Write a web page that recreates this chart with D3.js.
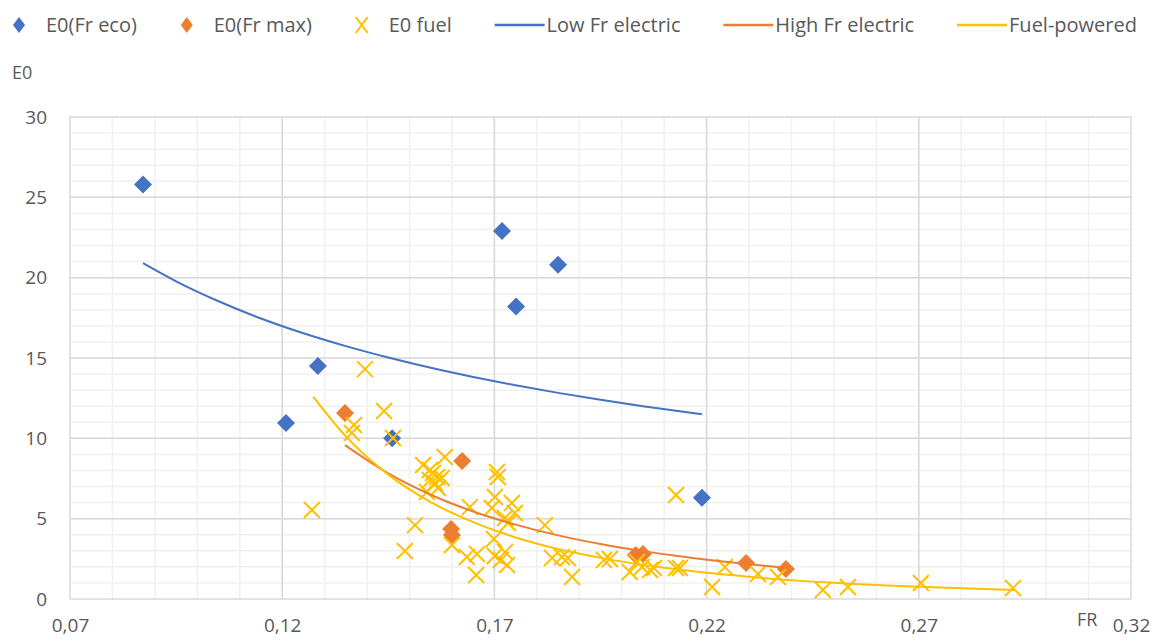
<!DOCTYPE html>
<html>
<head>
<meta charset="utf-8">
<script src="https://cdn.jsdelivr.net/npm/d3@7"></script>
<style>
  body { margin: 0; background: #fff; }
  #chart { width: 1166px; height: 642px; }
  text { font-family: "Open Sans", Lato, sans-serif; fill: #595959; }
</style>
</head>
<body>
<div id="chart"></div>
<script>
// E0(Fr eco) points
const ecoFR = [0.0872, 0.1209, 0.1284, 0.1459, 0.1718, 0.1751, 0.1850, 0.2189];
const ecoE0 = [25.8, 10.95, 14.5, 10.0, 22.9, 18.2, 20.8, 6.3];

// E0(Fr max) points
const maxFR = [0.1348, 0.1598, 0.1600, 0.1624, 0.2033, 0.2050, 0.2293, 0.2387];
const maxE0 = [11.57, 4.36, 3.98, 8.59, 2.74, 2.80, 2.24, 1.87];

// E0 fuel points
const fuelFR = [0.1270, 0.1395, 0.1369, 0.1364, 0.1440, 0.1461, 0.1513, 0.1489, 0.1600,
    0.1583, 0.1532, 0.1548, 0.1555, 0.1565, 0.1548, 0.1560, 0.1576, 0.1541, 0.1567,
    0.1706, 0.1708, 0.1701, 0.1642, 0.1694, 0.1741, 0.1748, 0.1725, 0.1732, 0.1819,
    0.1699, 0.1635, 0.1659, 0.1657, 0.1701, 0.1725, 0.1715, 0.1730, 0.1836, 0.1859,
    0.1873, 0.1883, 0.1958, 0.1972, 0.2019, 0.2036, 0.2048, 0.2067, 0.2076, 0.2128,
    0.2128, 0.2137, 0.2213, 0.2243, 0.2321, 0.2368, 0.2474, 0.2533, 0.2705, 0.2922];
const fuelE0 = [5.54, 14.31, 10.83, 10.33, 11.70, 10.02, 4.60, 2.99, 3.36,
    8.84, 8.34, 8.03, 7.84, 7.59, 7.40, 7.22, 7.53, 6.66, 6.91,
    7.90, 7.59, 6.35, 5.72, 5.66, 5.97, 5.35, 5.04, 4.73, 4.60,
    3.73, 2.61, 2.80, 1.49, 2.68, 2.92, 2.43, 2.12, 2.55, 2.61,
    2.55, 1.37, 2.43, 2.49, 1.68, 2.30, 1.99, 1.80, 1.93, 6.47,
    1.93, 1.93, 0.75, 1.99, 1.56, 1.37, 0.56, 0.75, 1.00, 0.68];

// trend curves
const lowFR = [0.0872, 0.095, 0.105, 0.115, 0.125, 0.135, 0.145, 0.155, 0.165, 0.175, 0.185, 0.195, 0.205, 0.2189];
const lowE0 = [20.9, 19.77, 18.53, 17.46, 16.54, 15.74, 15.03, 14.39, 13.82, 13.30, 12.83, 12.40, 12.00, 11.5];

const highFR = [0.1348, 0.145, 0.155, 0.165, 0.175, 0.185, 0.195, 0.205, 0.215, 0.225, 0.2395];
const highE0 = [9.58, 7.82, 6.49, 5.45, 4.63, 3.96, 3.42, 2.98, 2.61, 2.30, 1.93];

const fuelLineFR = [0.1273, 0.135, 0.145, 0.155, 0.165, 0.175, 0.185, 0.195, 0.21, 0.23, 0.25, 0.27, 0.2926];
const fuelLineE0 = [12.6, 10.12, 7.74, 6.03, 4.78, 3.83, 3.11, 2.56, 1.94, 1.38, 1.01, 0.76, 0.56];

const xTicks = [0.07, 0.12, 0.17, 0.22, 0.27, 0.32];
const yTicks = [0, 5, 10, 15, 20, 25, 30];

const legendNames = ["E0(Fr eco)", "E0(Fr max)", "E0 fuel", "Low Fr electric", "High Fr electric", "Fuel-powered"];

const blue = "#4472C4", orange = "#ED7D31", yellow = "#FFC000";

/*
DIMENSIONS
*/
const width = 1166;
const height = 642;
const margin = {top: 117, left: 70, right: 35, bottom: 43};

const svg = d3.select("#chart")
    .append("svg")
    .attr("width", width)
    .attr("height", height);

const xScale = d3.scaleLinear()
    .domain([0.07, 0.32])
    .range([margin.left, width - margin.right]);

const yScale = d3.scaleLinear()
    .domain([0, 30])
    .range([height - margin.bottom, margin.top]);

/*
GRIDLINES
*/
const minorX = d3.range(8, 32).map(function(d) { return d / 100; });
const minorY = d3.range(1, 30);

svg.append("g").selectAll("line")
    .data(minorX)
    .enter().append("line")
    .attr("x1", function(d) { return xScale(d); })
    .attr("x2", function(d) { return xScale(d); })
    .attr("y1", yScale(0))
    .attr("y2", yScale(30))
    .attr("stroke", "#f0f0f0")
    .attr("stroke-width", 1.5);

svg.append("g").selectAll("line")
    .data(minorY)
    .enter().append("line")
    .attr("x1", xScale(0.07))
    .attr("x2", xScale(0.32))
    .attr("y1", function(d) { return yScale(d); })
    .attr("y2", function(d) { return yScale(d); })
    .attr("stroke", "#f0f0f0")
    .attr("stroke-width", 1.5);

svg.append("g").selectAll("line")
    .data(xTicks.slice(1, -1))
    .enter().append("line")
    .attr("x1", function(d) { return xScale(d); })
    .attr("x2", function(d) { return xScale(d); })
    .attr("y1", yScale(0))
    .attr("y2", yScale(30))
    .attr("stroke", "#d9d9d9")
    .attr("stroke-width", 1.5);

svg.append("g").selectAll("line")
    .data(yTicks.slice(1, -1))
    .enter().append("line")
    .attr("x1", xScale(0.07))
    .attr("x2", xScale(0.32))
    .attr("y1", function(d) { return yScale(d); })
    .attr("y2", function(d) { return yScale(d); })
    .attr("stroke", "#d9d9d9")
    .attr("stroke-width", 1.5);

svg.append("rect")
    .attr("x", xScale(0.07))
    .attr("y", yScale(30))
    .attr("width", xScale(0.32) - xScale(0.07))
    .attr("height", yScale(0) - yScale(30))
    .attr("fill", "none")
    .attr("stroke", "#d9d9d9")
    .attr("stroke-width", 1.5);

/*
AXES
*/
const fmtX = function(d) { return d3.format(".2f")(d).replace(".", ","); };

const xAxis = svg.append("g")
    .attr("transform", `translate(0,${height - margin.bottom})`)
    .call(d3.axisBottom(xScale).tickValues(xTicks).tickFormat(fmtX).tickSize(0).tickPadding(20));

const yAxis = svg.append("g")
    .attr("transform", `translate(${margin.left},0)`)
    .call(d3.axisLeft(yScale).tickValues(yTicks).tickSize(0).tickPadding(23));

svg.selectAll(".domain").remove();
svg.selectAll(".tick text")
    .style("font-size", "19px")
    .attr("fill", "#595959");

svg.append("text")
    .attr("x", 12)
    .attr("y", 79)
    .style("font-size", "18px")
    .text("E0");

svg.append("text")
    .attr("x", 1077)
    .attr("y", 626)
    .style("font-size", "18px")
    .text("FR");

/*
MARKERS
*/
const diamond = "M0,-9L9,0L0,9L-9,0Z";
const cross = "M-8,-8L8,8M-8,8L8,-8";

svg.append("g").selectAll("path")
    .data(d3.zip(ecoFR, ecoE0))
    .enter().append("path")
    .attr("d", diamond)
    .attr("transform", function(d) { return `translate(${xScale(d[0])},${yScale(d[1])})`; })
    .attr("fill", blue);

svg.append("g").selectAll("path")
    .data(d3.zip(maxFR, maxE0))
    .enter().append("path")
    .attr("d", diamond)
    .attr("transform", function(d) { return `translate(${xScale(d[0])},${yScale(d[1])})`; })
    .attr("fill", orange);

svg.append("g").selectAll("path")
    .data(d3.zip(fuelFR, fuelE0))
    .enter().append("path")
    .attr("d", cross)
    .attr("transform", function(d) { return `translate(${xScale(d[0])},${yScale(d[1])})`; })
    .attr("fill", "none")
    .attr("stroke", yellow)
    .attr("stroke-width", 2);

/*
TREND LINES
*/
const line = d3.line()
    .x(function(d) { return xScale(d[0]); })
    .y(function(d) { return yScale(d[1]); })
    .curve(d3.curveMonotoneX);

const curves = [
    {pts: d3.zip(lowFR, lowE0), color: blue},
    {pts: d3.zip(highFR, highE0), color: orange},
    {pts: d3.zip(fuelLineFR, fuelLineE0), color: yellow}
];

svg.append("g").selectAll("path")
    .data(curves)
    .enter().append("path")
    .attr("d", function(d) { return line(d.pts); })
    .attr("fill", "none")
    .attr("stroke", function(d) { return d.color; })
    .attr("stroke-width", 2);

/*
LEGEND - spread between x=12 and x=1137
*/
const legendKinds = [
    {type: "diamond", color: blue},
    {type: "diamond", color: orange},
    {type: "cross", color: yellow},
    {type: "line", color: blue},
    {type: "line", color: orange},
    {type: "line", color: yellow}
];

const legend = svg.append("g").attr("transform", "translate(0,25)");
const items = [];
let used = 0;
legendNames.forEach(function(name, i) {
    const k = legendKinds[i];
    const g = legend.append("g");
    let symW;
    if (k.type === "line") {
        symW = 50;
        g.append("line").attr("x1", 0).attr("x2", 50).attr("y1", 0).attr("y2", 0)
            .attr("stroke", k.color).attr("stroke-width", 2.5);
    } else if (k.type === "diamond") {
        symW = 14;
        g.append("path").attr("d", "M0,-8L6,0L0,8L-6,0Z")
            .attr("transform", "translate(7,0)").attr("fill", k.color);
    } else {
        symW = 14;
        g.append("path").attr("d", "M-6,-8L6,8M-6,8L6,-8")
            .attr("transform", "translate(7,0)")
            .attr("stroke", k.color).attr("stroke-width", 2).attr("fill", "none");
    }
    const tx = symW + (k.type === "line" ? 2 : 20);
    const t = g.append("text")
        .attr("x", tx)
        .attr("y", 7)
        .style("font-size", "20px")
        .text(name);
    const w = tx + t.node().getComputedTextLength();
    items.push({g: g, w: w});
    used += w;
});
const gap = (1137 - 12 - used) / (items.length - 1);
let lx = 12;
items.forEach(function(it) {
    it.g.attr("transform", `translate(${lx},0)`);
    lx += it.w + gap;
});
</script>
</body>
</html>
